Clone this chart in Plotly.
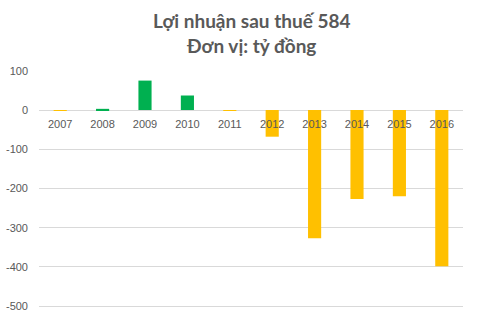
import plotly.graph_objects as go

years = ["2007", "2008", "2009", "2010", "2011", "2012", "2013", "2014", "2015", "2016"]
profit = [-2, 3, 75, 37, -2, -68, -327, -227, -220, -398]

y_ticks = [100, 0, -100, -200, -300, -400, -500]
y_tick_labels = ["100", "0", "-100", "-200", "-300", "-400", "-500"]

title_line1 = "Lợi nhuận sau thuế 584"
title_line2 = "Đơn vị: tỷ đồng"

GREEN = "#00B050"
ORANGE = "#FFC000"
colors = [GREEN if v >= 0 else ORANGE for v in profit]

y_min, y_max = -525, 102

top_m, bot_m = 70, 4
plot_h = 320 - top_m - bot_m

positions = list(range(len(years)))

fig = go.Figure()
fig.add_trace(go.Bar(x=positions, y=profit, marker=dict(color=colors, line=dict(width=0)),
                     width=0.31, xaxis="x", yaxis="y"))
# invisible companion trace so that the category-label axis (x2) is rendered
fig.add_trace(go.Scatter(x=positions, y=profit, xaxis="x2", yaxis="y", mode="markers",
                         marker=dict(opacity=0, size=1), hoverinfo="skip", showlegend=False))

fig.update_layout(
    width=477, height=320,
    margin=dict(l=39, r=14, t=top_m, b=bot_m, autoexpand=False),
    paper_bgcolor="white", plot_bgcolor="white",
    showlegend=False,
    font=dict(family="Liberation Sans, Arial, sans-serif", size=11, color="#595959"),
    annotations=[dict(
        text=f"<b>{title_line1}</b><br><b>{title_line2}</b>",
        xref="paper", yref="paper", x=0.5, xanchor="center",
        y=1 + (top_m - 33) / plot_h, yanchor="middle",
        showarrow=False, align="center",
        font=dict(family="Lato, sans-serif", size=19, color="#595959"),
    )],
    xaxis=dict(
        range=[-0.5, len(years) - 0.5], anchor="y",
        showgrid=False, showline=False, zeroline=False, ticks="",
        showticklabels=False, automargin=False,
    ),
    xaxis2=dict(
        overlaying="x", anchor="free", position=(0 - y_min) / (y_max - y_min), side="bottom",
        range=[-0.5, len(years) - 0.5], tickvals=positions, ticktext=years,
        showgrid=False, showline=False, zeroline=False, ticks="",
        ticklabelstandoff=6, automargin=False,
    ),
    yaxis=dict(
        range=[y_min, y_max], tickvals=y_ticks, ticktext=y_tick_labels,
        showgrid=True, gridcolor="#D9D9D9",
        gridwidth=1, zeroline=True, zerolinecolor="#D9D9D9", zerolinewidth=1,
        showline=False, ticks="", ticklabelstandoff=10, automargin=False,
    ),
)

fig.write_html("out.html")
